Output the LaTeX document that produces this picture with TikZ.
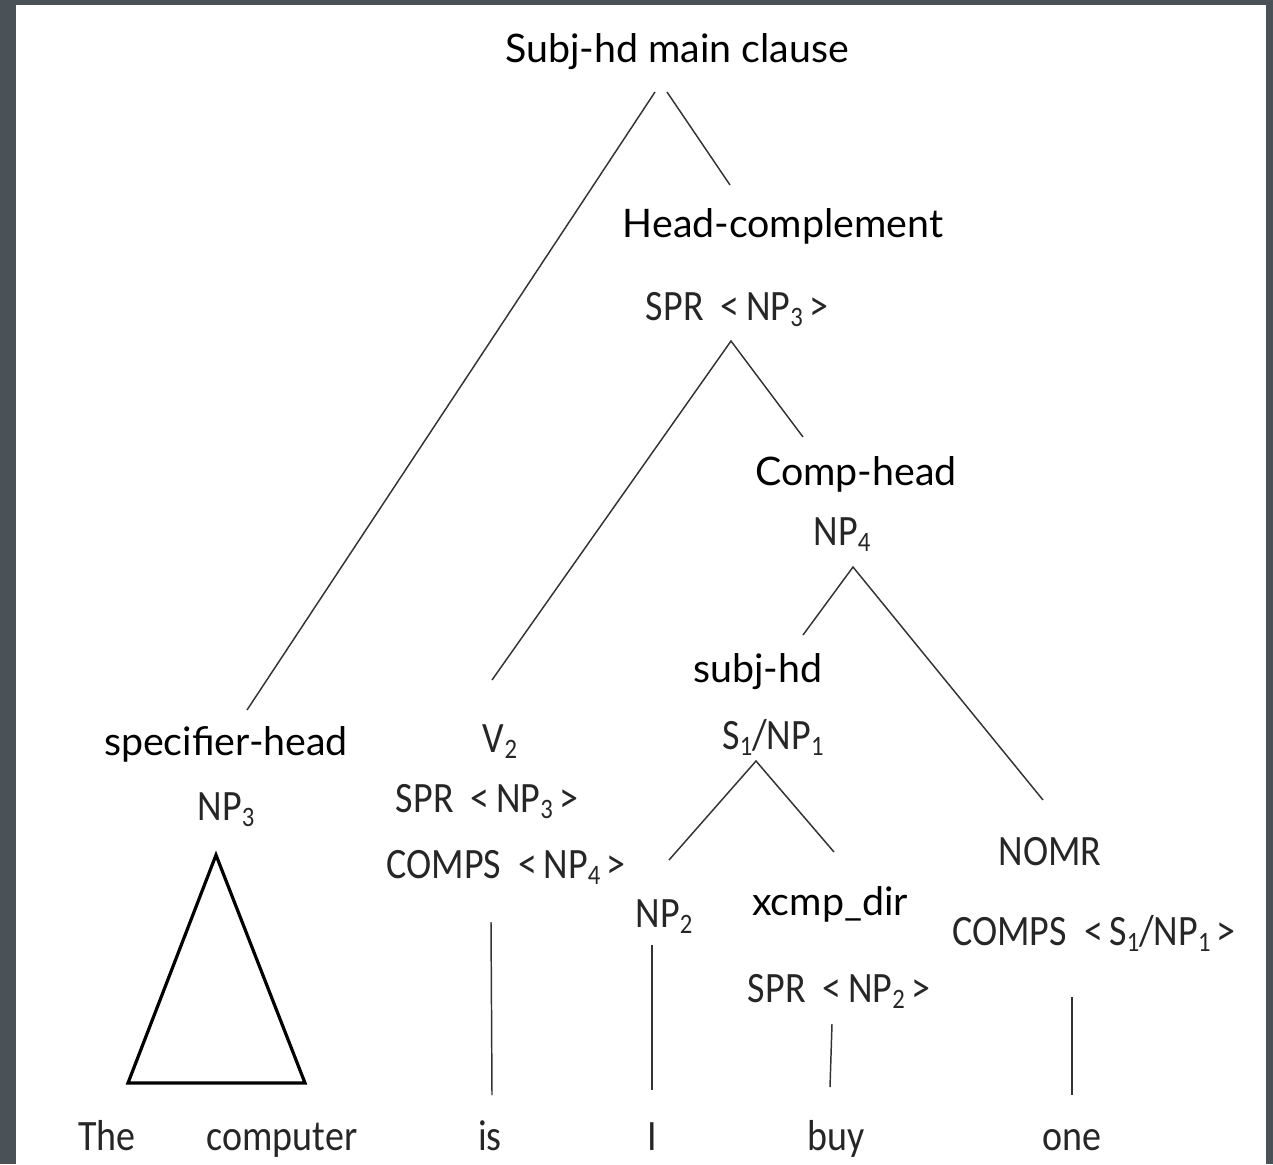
\documentclass[tikz,border=0pt]{standalone}
\usepackage{fontspec}
\usepackage{graphicx}
\setmainfont{Carlito}
\newfontfamily\gillfont{Lato}
\newfontfamily\calfont{Carlito}
% subscript index and slightly tall feature lettering
\newcommand\sbs[1]{\raisebox{-0.3ex}{\fontsize{18.5}{19}\selectfont #1}}
\newcommand\tallft[1]{\scalebox{1}[1.14]{#1}}
\definecolor{frame}{RGB}{74,82,87}
\begin{document}
\begin{tikzpicture}[x=0.75pt,y=-0.75pt,
  rule/.style={font=\gillfont\fontsize{29.5}{32}\selectfont, text=black, anchor=base, inner sep=0pt},
  feat/.style={font=\calfont\fontsize{28.5}{32}\selectfont, text=black!85, anchor=base, inner sep=0pt},
  branch/.style={draw=black!80, line width=1.1pt},
  stem/.style={draw=black!80, line width=1.1pt},
  tri/.style={draw=black, line width=2.4pt, line join=miter}]
\useasboundingbox (0,0) rectangle (1273,1164);
% page frame
\fill[frame] (0,0) rectangle (1273,5);
\fill[frame] (0,0) rectangle (16,1164);
\fill[frame] (1266,0) rectangle (1273,1164);

% phrase labels
\node[rule] (root) at (677,62) {Subj-hd main clause};
\node[rule] (hc) at (783,237) {Head-complement};
\node[feat] (hcspr) at (737,320) {\tallft{SPR\ \ <\,NP\sbs{3}\,>}};
\node[rule] (ch) at (856,485) {Comp-head};
\node[feat] (np4) at (842,545) {\tallft{NP\sbs{4}}};
\node[rule] (sh) at (758,682) {subj-hd};
\node[feat] (s1) at (773,749) {\tallft{S\sbs{1}/NP\sbs{1}}};
\node[rule] (spec) at (226,755) {specifier-head};
\node[feat] (np3) at (226,820) {\tallft{NP\sbs{3}}};
\node[feat] (v2) at (500,752) {\tallft{V\sbs{2}}};
\node[feat] (vspr) at (487,812) {\tallft{SPR\ \ <\,NP\sbs{3}\,>}};
\node[feat] (vcomps) at (506,878) {\tallft{COMPS\ \ <\,NP\sbs{4}\,>}};
\node[feat] (np2) at (664,927) {\tallft{NP\sbs{2}}};
\node[rule] (xcmp) at (830,915) {xcmp\_dir};
\node[feat] (xspr) at (839,1002) {\tallft{SPR\ \ <\,NP\sbs{2}\,>}};
\node[feat] (nomr) at (1050,865) {\tallft{NOMR}};
\node[feat] (ncomps) at (1094,945) {\tallft{COMPS\ \ <\,S\sbs{1}/NP\sbs{1}\,>}};

% words
\node[feat] (w1) at (107,1150) {\tallft{The}};
\node[feat] (w2) at (282,1150) {\tallft{computer}};
\node[feat] (w3) at (490,1150) {\tallft{is}};
\node[feat] (w4) at (652,1150) {\tallft{I}};
\node[feat] (w5) at (836,1150) {\tallft{buy}};
\node[feat] (w6) at (1072,1150) {\tallft{one}};

% branch end points
\coordinate (rootL) at (655,92);
\coordinate (rootR) at (667,92);
\coordinate (specT) at (247,710);
\coordinate (hcT) at (730,185);
\coordinate (hcB) at (731,341);
\coordinate (v2T) at (492,680);
\coordinate (chT) at (803,437);
\coordinate (chB) at (853,567);
\coordinate (shT) at (803,635);
\coordinate (nomrT) at (1043,800);
\coordinate (s1B) at (756,761);
\coordinate (np2T) at (669,860);
\coordinate (xcmpT) at (834,852);
\coordinate (isT) at (491,922);
\coordinate (isB) at (492,1095);
\coordinate (iT) at (652,945);
\coordinate (iB) at (652,1090);
\coordinate (buyT) at (832,1024);
\coordinate (buyB) at (830,1087);
\coordinate (oneT) at (1072,997);
\coordinate (oneB) at (1072,1095);
\coordinate (triA) at (216,855);
\coordinate (triL) at (128,1083);
\coordinate (triR) at (305,1083);

% tree branches
\draw[branch] (specT) -- (rootL);
\draw[branch] (rootR) -- (hcT);
\draw[branch] (v2T) -- (hcB) -- (chT);
\draw[branch] (shT) -- (chB) -- (nomrT);
\draw[branch] (np2T) -- (s1B) -- (xcmpT);

% lexical stems
\draw[stem] (isT) -- (isB);
\draw[stem] (iT) -- (iB);
\draw[stem] (buyT) -- (buyB);
\draw[stem] (oneT) -- (oneB);

% collapsed NP
\draw[tri] (triA) -- (triR) -- (triL) -- cycle;
\end{tikzpicture}
\end{document}
